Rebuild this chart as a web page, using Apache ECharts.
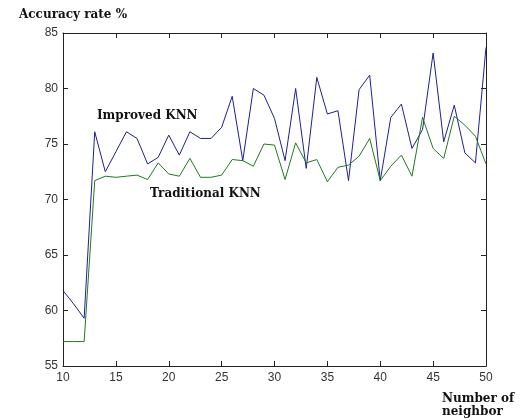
<!DOCTYPE html>
<html>
<head>
<meta charset="utf-8">
<script src="https://cdn.jsdelivr.net/npm/echarts@6/dist/echarts.min.js"></script>
<style>
html,body{margin:0;padding:0;background:#fff}
#main{width:520px;height:420px}
</style>
</head>
<body>
<div id="main"></div>
<script>
// number of neighbors k
var neighbors = [10,11,12,13,14,15,16,17,18,19,20,21,22,23,24,25,26,27,28,29,30,
	31,32,33,34,35,36,37,38,39,40,41,42,43,44,45,46,47,48,49,50]
// accuracy rate %
var improved = [61.8,60.6,59.3,76.1,72.5,74.3,76.1,75.5,73.2,73.8,75.8,
	74.0,76.1,75.5,75.5,76.5,79.3,73.5,80.0,79.4,77.3,
	73.5,80.0,72.8,81.0,77.7,78.0,71.7,79.9,81.2,71.7,
	77.4,78.6,74.6,76.3,83.2,75.2,78.5,74.2,73.3,83.7]
var traditional = [57.2,57.2,57.2,71.7,72.1,72.0,72.1,72.2,71.8,73.3,72.3,
	72.1,73.7,72.0,72.0,72.2,73.6,73.5,73.0,75.0,74.9,
	71.8,75.1,73.3,73.6,71.6,72.9,73.1,73.9,75.5,71.7,
	73.0,74.0,72.1,77.4,74.6,73.7,77.5,76.7,75.7,73.2]
var seriesNames = ['Improved KNN','Traditional KNN']

function pairs(ys){
	return neighbors.map(function(k,i){ return [k, ys[i]] })
}

var chart = echarts.init(document.getElementById('main'))

var axisLine = {lineStyle:{color:'#222',width:1}}
var tick = {inside:true,length:5,lineStyle:{color:'#222'}}
var lbl = {color:'#333',fontFamily:'Liberation Sans, Arial, sans-serif',fontSize:12}

option = {
	animation:false,
	title:[
		{text:'Accuracy rate %',left:14,top:4,
			textStyle:{fontFamily:'DejaVu Serif',fontWeight:'bold',fontSize:12,color:'#111'}},
		{text:'Number of\nneighbor',left:437,top:387,
			textStyle:{fontFamily:'DejaVu Serif',fontWeight:'bold',fontSize:12,color:'#111',lineHeight:13}}
	],
	graphic:[
		{type:'text',left:97,top:110,style:{text:seriesNames[0],
			font:'bold 12px "DejaVu Serif"',fill:'#111'}},
		{type:'text',left:150,top:188,style:{text:seriesNames[1],
			font:'bold 12px "DejaVu Serif"',fill:'#111'}}
	],
	grid:{left:63,right:34,top:33,bottom:54},
	xAxis:[
		{type:'value',min:10,max:50,interval:5,position:'bottom',
			axisLine:axisLine,axisTick:tick,splitLine:{show:false},
			axisLabel:Object.assign({margin:6},lbl)},
		{type:'value',min:10,max:50,interval:5,position:'top',
			axisLine:axisLine,axisTick:tick,splitLine:{show:false},axisLabel:{show:false}}
	],
	yAxis:[
		{type:'value',min:55,max:85,interval:5,position:'left',
			axisLine:axisLine,axisTick:tick,splitLine:{show:false},
			axisLabel:Object.assign({margin:5},lbl)},
		{type:'value',min:55,max:85,interval:5,position:'right',
			axisLine:axisLine,axisTick:tick,splitLine:{show:false},axisLabel:{show:false}}
	],
	series:[
		{name:seriesNames[0],type:'line',xAxisIndex:0,yAxisIndex:0,
			data:pairs(improved),showSymbol:false,
			lineStyle:{color:'#1e1e96',width:1},itemStyle:{color:'#1e1e96'}},
		{name:seriesNames[1],type:'line',xAxisIndex:0,yAxisIndex:0,
			data:pairs(traditional),showSymbol:false,
			lineStyle:{color:'#1f7a1f',width:1},itemStyle:{color:'#1f7a1f'}}
	]
}

chart.setOption(option)
</script>
</body>
</html>
